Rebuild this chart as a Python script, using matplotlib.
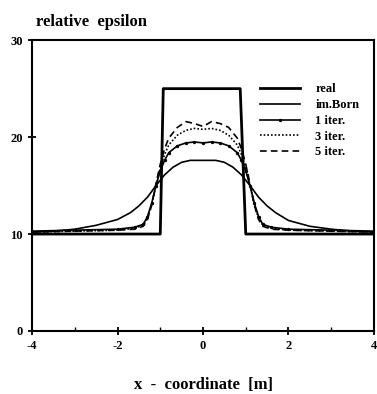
import matplotlib
matplotlib.use('Agg')
import matplotlib.pyplot as plt
from matplotlib.ticker import MultipleLocator

plt.rcParams['font.family'] = 'Liberation Serif'
plt.rcParams['font.weight'] = 'bold'
plt.rcParams['axes.unicode_minus'] = False

# true profile
x_real = [-4, -1.0, -0.93, 0.87, 1.0, 4]
y_real = [10, 10, 25, 25, 10, 10]

# imaginary Born approximation
x_born = [-4, -3.5, -3, -2.5, -2, -1.7, -1.5, -1.3, -1.1, -0.9, -0.7, -0.5, -0.3, 0,
          0.3, 0.5, 0.7, 0.9, 1.1, 1.3, 1.5, 1.7, 2, 2.5, 3, 3.5, 4]
y_born = [10.2, 10.3, 10.5, 10.9, 11.5, 12.2, 12.9, 13.8, 15.0, 16.1, 16.9, 17.4, 17.6, 17.6,
          17.6, 17.4, 16.9, 16.1, 15.0, 13.8, 12.9, 12.2, 11.4, 10.8, 10.5, 10.3, 10.2]

# iterations share one x grid
x_iter = [-4, -3, -2, -1.6, -1.4, -1.3, -1.2, -1.1, -1.0, -0.9, -0.8, -0.6, -0.4, -0.2, 0,
          0.2, 0.4, 0.6, 0.8, 0.9, 1.0, 1.1, 1.2, 1.3, 1.4, 1.6, 2, 3, 4]
y_it1 = [10.3, 10.4, 10.5, 10.7, 11.0, 11.8, 13.2, 15.0, 16.5, 17.6, 18.4, 19.1, 19.4, 19.5, 19.4,
         19.5, 19.4, 19.1, 18.4, 17.6, 16.5, 15.0, 13.2, 11.8, 11.0, 10.7, 10.5, 10.4, 10.3]
y_it3 = [10.2, 10.3, 10.4, 10.6, 10.9, 11.6, 13.0, 15.0, 16.8, 18.2, 19.2, 20.2, 20.7, 20.9, 20.8,
         20.9, 20.7, 20.2, 19.2, 18.2, 16.8, 15.0, 13.0, 11.6, 10.9, 10.6, 10.4, 10.3, 10.2]
y_it5 = [10.2, 10.3, 10.4, 10.5, 10.8, 11.5, 13.0, 15.2, 17.2, 18.8, 19.9, 21.0, 21.6, 21.4, 21.1,
         21.6, 21.4, 21.0, 19.9, 18.8, 17.2, 15.2, 13.0, 11.5, 10.8, 10.5, 10.4, 10.3, 10.2]

fig = plt.figure(figsize=(3.77, 3.94), dpi=100)
ax = fig.add_axes([0.085, 0.160, 0.907, 0.738])

ax.plot(x_real, y_real, color='black', lw=2.0, label='real')
ax.plot(x_born, y_born, color='black', lw=1.2, label='im.Born')
ax.plot(x_iter, y_it1, color='black', lw=1.2, marker='o', markersize=1.4, label='1 iter.')
ax.plot(x_iter, y_it3, color='black', lw=1.2, linestyle=(0, (1, 1.2)), label='3 iter.')
ax.plot(x_iter, y_it5, color='black', lw=1.2, linestyle=(0, (4, 2.5)), label='5 iter.')

ax.set_xlim(-4, 4)
ax.set_ylim(0, 30)
ax.set_xticks([-4, -2, 0, 2, 4])
ax.xaxis.set_minor_locator(MultipleLocator(1))
ax.set_yticks([0, 10, 20, 30])
for s in ax.spines.values():
    s.set_linewidth(1.5)
ax.tick_params(which='major', direction='inout', length=6, width=1.3, labelsize=9)
ax.tick_params(which='minor', direction='in', length=3, width=1.0)

ax.set_xlabel('x  -  coordinate  [m]', fontsize=12, fontweight='bold', labelpad=18)
fig.text(0.095, 0.945, 'relative  epsilon', fontsize=12, fontweight='bold', ha='left', va='center')

leg = ax.legend(loc='upper right', bbox_to_anchor=(0.99, 0.89), frameon=False, fontsize=9,
                handlelength=3.2, labelspacing=0.3, handletextpad=1.2)

plt.savefig('out.png', dpi=100)
